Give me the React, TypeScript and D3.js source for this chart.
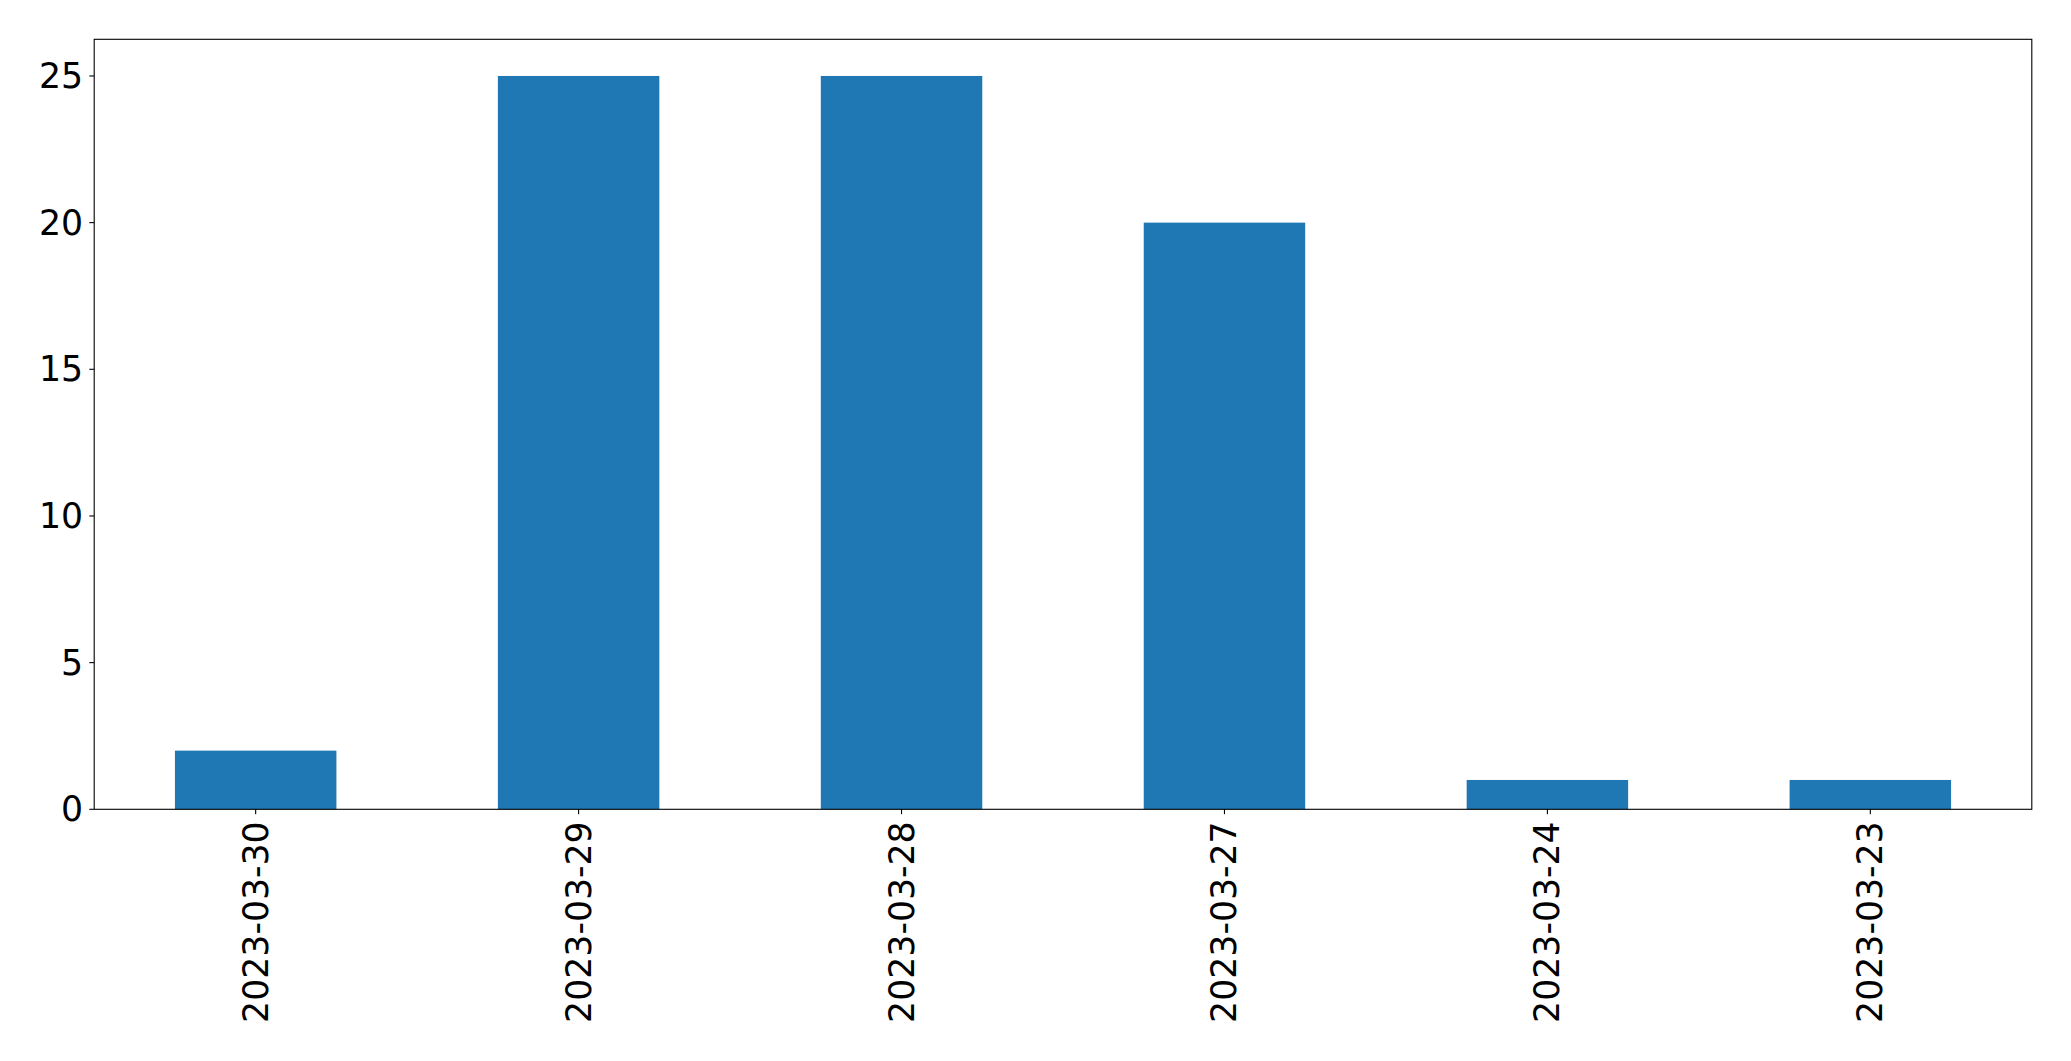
import React from "react";
import * as d3 from "d3";

const categories: string[] = ["2023-03-30", "2023-03-29", "2023-03-28", "2023-03-27", "2023-03-24", "2023-03-23"];
const values: number[] = [2, 25, 25, 20, 1, 1];
const yTicks: number[] = [0, 5, 10, 15, 20, 25];

const W = 2071;
const H = 1061;
const left = 94.2;
const right = 2031.8;
const top = 39.3;
const bottom = 809.3;
const FONT = "'DejaVu Sans', sans-serif";
const FS = 34.7;

export default function App() {
  const x = d3.scaleLinear().domain([-0.5, categories.length - 0.5]).range([left, right]);
  const yMax = d3.max(values)! * 1.05;
  const y = d3.scaleLinear().domain([0, yMax]).range([bottom, top]);
  const bw = x(0.25) - x(-0.25);

  return (
    <svg
      width={W}
      height={H}
      style={{ position: "absolute", left: 0, top: 0, background: "#fff" }}
      fontFamily={FONT}
    >
      <rect x={0} y={0} width={W} height={H} fill="#fff" />
      {values.map((v, i) => (
        <rect
          key={i}
          x={x(i) - bw / 2}
          y={y(v)}
          width={bw}
          height={y(0) - y(v)}
          fill="#1f77b4"
        />
      ))}
      <rect x={left} y={top} width={right - left} height={bottom - top} fill="none" stroke="#000" strokeWidth={1.1} />
      {yTicks.map((t) => (
        <g key={t}>
          <line x1={left - 4.9} x2={left} y1={y(t)} y2={y(t)} stroke="#000" strokeWidth={1.1} />
          <text x={left - 11} y={y(t)} textAnchor="end" dominantBaseline="central" fontSize={FS} fill="#000">
            {t}
          </text>
        </g>
      ))}
      {categories.map((c, i) => (
        <g key={c}>
          <line x1={x(i)} x2={x(i)} y1={bottom} y2={bottom + 4.9} stroke="#000" strokeWidth={1.1} />
          <text
            transform={`translate(${x(i)},${bottom + 12}) rotate(-90)`}
            textAnchor="end"
            dominantBaseline="central"
            fontSize={FS}
            fill="#000"
          >
            {c}
          </text>
        </g>
      ))}
    </svg>
  );
}
